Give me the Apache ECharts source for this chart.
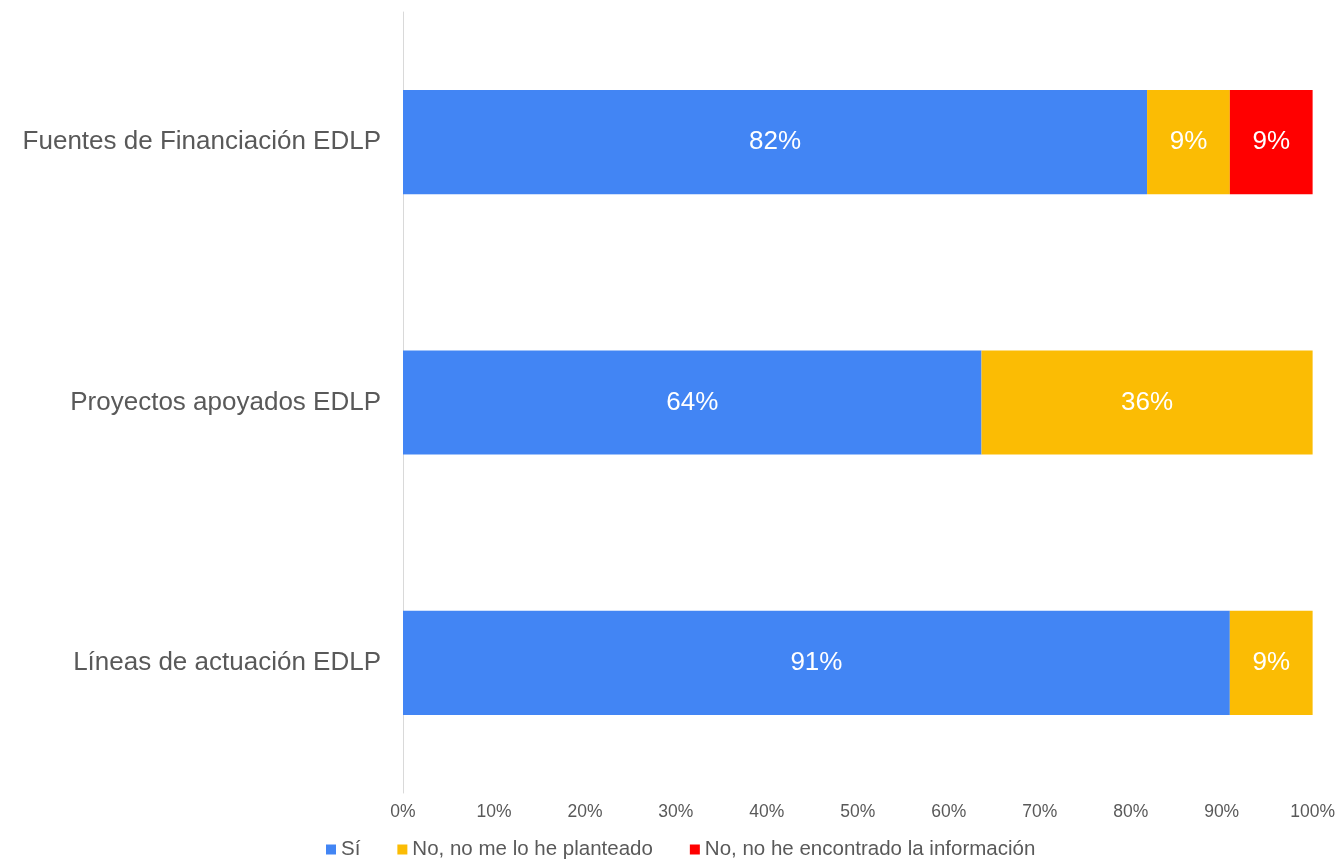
<!DOCTYPE html>
<html><head><meta charset="utf-8">
<script src="https://cdn.jsdelivr.net/npm/echarts@6/dist/echarts.min.js"></script>
<style>html,body{margin:0;padding:0;background:#fff}#c{width:1338px;height:859px}</style>
</head><body><div id="c"></div>
<script>
const categories = ['Fuentes de Financiación EDLP', 'Proyectos apoyados EDLP', 'Líneas de actuación EDLP'];
const seriesNames = ['Sí', 'No, no me lo he planteado', 'No, no he encontrado la información'];
const si = [81.8, 63.6, 90.9];
const noPlanteado = [9.1, 36.4, 9.1];
const noEncontrado = [9.1, 0, 0];
const xTicks = [0, 10, 20, 30, 40, 50, 60, 70, 80, 90, 100];
const colors = ['#4285F4', '#FBBC04', '#FF0000'];
const font = "'Liberation Sans', Arial, sans-serif";

const chart = echarts.init(document.getElementById('c'));
const mk = (name, data, color) => ({
  name, type: 'bar', stack: 'total', data,
  barCategoryGap: '60%',
  itemStyle: { color },
  label: {
    show: true, position: 'inside', color: '#fff', fontSize: 26, fontFamily: font,
    formatter: p => p.value > 0 ? Math.round(p.value) + '%' : ''
  }
});
chart.setOption({
  animation: false,
  textStyle: { fontFamily: font },
  grid: { left: 403, right: 25, top: 12, bottom: 66, containLabel: false },
  legend: {
    left: 321, top: 834, itemWidth: 10, itemHeight: 10, itemGap: 37, icon: 'rect',
    textStyle: { fontSize: 20.5, color: '#595959', fontFamily: font },
    data: seriesNames
  },
  xAxis: {
    type: 'value', min: 0, max: 100, interval: 10,
    axisLabel: { formatter: v => v + '%', fontSize: 17.5, color: '#595959', margin: 10, fontFamily: font },
    axisLine: { show: false }, axisTick: { show: false }, splitLine: { show: false }
  },
  yAxis: {
    type: 'category', data: categories, inverse: true,
    axisLine: { show: true, lineStyle: { color: '#d9d9d9' } },
    axisTick: { show: false },
    axisLabel: { fontSize: 26, color: '#595959', margin: 22, fontFamily: font }
  },
  series: [
    mk(seriesNames[0], si, colors[0]),
    mk(seriesNames[1], noPlanteado, colors[1]),
    mk(seriesNames[2], noEncontrado, colors[2])
  ]
});
</script></body></html>
